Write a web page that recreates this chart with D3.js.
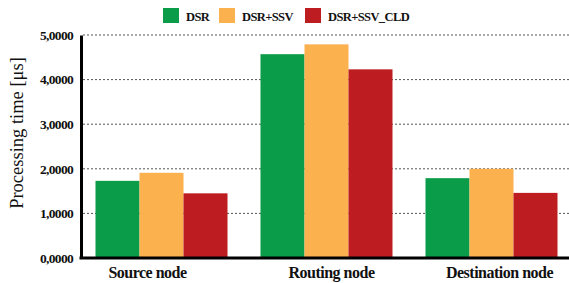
<!DOCTYPE html>
<html>
<head>
  <meta charset="utf-8">
  <title>Processing time</title>
  <style>
    body { margin: 0; background: #fff; }
    text { font-family: "Liberation Serif", "Times New Roman", serif; }
  </style>
</head>
<body>
  <div id="chart"></div>
  <script src="https://cdn.jsdelivr.net/npm/d3@7"></script>
  <script>
    // data
    const categories = ['Source node', 'Routing node', 'Destination node'];
    const seriesNames = ['DSR', 'DSR+SSV', 'DSR+SSV_CLD'];
    const dsr = [1.73, 4.57, 1.79];
    const dsrSsv = [1.91, 4.79, 2.00];
    const dsrSsvCld = [1.45, 4.23, 1.46];
    const yTicks = [0, 1, 2, 3, 4, 5];
    const colors = ['#0b9c4a', '#fbb14e', '#bd1d21'];

    const table = categories.map((c, i) => ({
      cat: c,
      vals: [dsr[i], dsrSsv[i], dsrSsvCld[i]]
    }));

    const W = 569, H = 283;
    const margin = {top: 35, right: 0, bottom: 25, left: 81};

    const svg = d3.select('#chart').append('svg')
      .attr('width', W).attr('height', H);

    const x = d3.scaleBand()
      .domain(categories)
      .range([79, 574])
      .paddingInner(0.2)
      .paddingOuter(0.1);

    const xs = d3.scaleBand()
      .domain(seriesNames)
      .range([0, x.bandwidth()]);

    const y = d3.scaleLinear()
      .domain([0, 5])
      .range([H - margin.bottom, margin.top]);

    // dotted grid
    svg.append('g')
      .selectAll('line')
      .data(yTicks.filter(d => d > 0))
      .join('line')
        .attr('x1', margin.left + 2)
        .attr('x2', W)
        .attr('y1', d => y(d))
        .attr('y2', d => y(d))
        .attr('stroke', '#555')
        .attr('stroke-width', 1)
        .attr('stroke-dasharray', '2,2');

    // bars
    svg.append('g')
      .selectAll('g')
      .data(table)
      .join('g')
        .attr('transform', d => 'translate(' + x(d.cat) + ',0)')
      .selectAll('rect')
      .data(d => d.vals.map((v, j) => ({name: seriesNames[j], v: v, j: j})))
      .join('rect')
        .attr('x', d => xs(d.name))
        .attr('width', xs.bandwidth())
        .attr('y', d => y(d.v))
        .attr('height', d => y(0) - y(d.v))
        .attr('fill', d => colors[d.j]);

    // y axis
    const yAxis = svg.append('g')
      .attr('transform', 'translate(' + margin.left + ',0)')
      .call(d3.axisLeft(y).tickValues(yTicks).tickSize(0).tickPadding(8)
        .tickFormat(d => d3.format('.4f')(d).replace('.', ',')));
    yAxis.select('.domain').attr('stroke', '#000').attr('stroke-width', 3);
    yAxis.selectAll('text')
      .attr('font-size', 13.5)
      .attr('font-weight', 'bold')
      .attr('letter-spacing', -0.7)
      .attr('fill', '#111');

    // x axis
    const xAxis = svg.append('g')
      .attr('transform', 'translate(0,' + y(0) + ')')
      .call(d3.axisBottom(x).tickSize(0).tickPadding(9));
    xAxis.select('.domain')
      .attr('d', 'M' + (margin.left - 1.5) + ',0H' + W)
      .attr('stroke', '#000').attr('stroke-width', 3);
    xAxis.selectAll('text')
      .attr('font-size', 16)
      .attr('font-weight', 'bold')
      .attr('letter-spacing', -0.5)
      .attr('fill', '#111')
      .attr('dx', (d, i) => [-14, 5, 8][i]);

    // y title
    svg.append('text')
      .attr('transform', 'translate(23,' + 133 + ') rotate(-90)')
      .attr('text-anchor', 'middle')
      .attr('font-size', 18.5)
      .attr('fill', '#111')
      .text('Processing time [\u03bcs]');

    // legend
    const legendX = [163, 219, 305];
    const legend = svg.append('g')
      .selectAll('g')
      .data(seriesNames)
      .join('g')
        .attr('transform', (d, i) => 'translate(' + legendX[i] + ',8)');
    legend.append('rect')
      .attr('width', 16).attr('height', 15)
      .attr('fill', (d, i) => colors[i]);
    legend.append('text')
      .attr('x', 23).attr('y', 12.5)
      .attr('font-size', 12.5)
      .attr('font-weight', 'bold')
      .attr('letter-spacing', -0.6)
      .attr('fill', '#111')
      .text(d => d);
  </script>
</body>
</html>
